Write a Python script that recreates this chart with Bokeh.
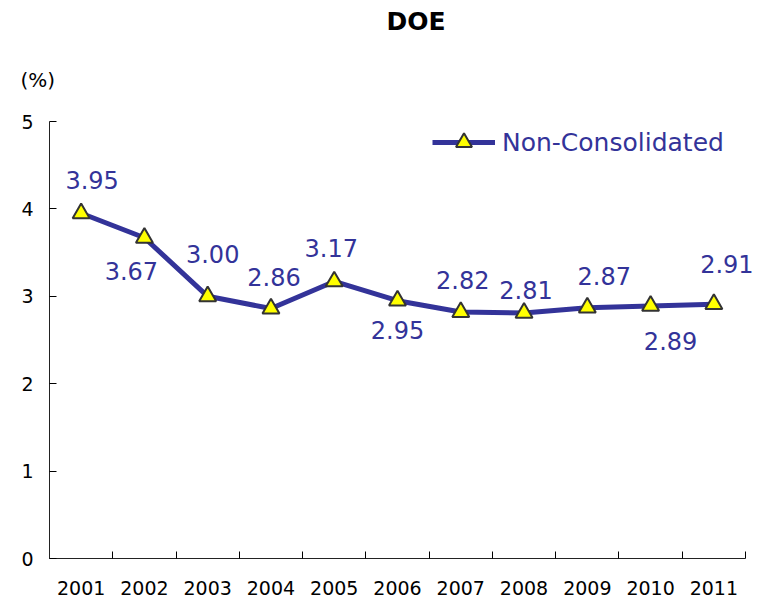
from bokeh.plotting import figure
from bokeh.models import (ColumnDataSource, Range1d, FixedTicker, Legend, LegendItem, Title)
from bokeh.core.properties import value
from bokeh.embed import file_html
from bokeh.resources import INLINE

# ---- data ----
years = ["2001", "2002", "2003", "2004", "2005", "2006", "2007", "2008", "2009", "2010", "2011"]
doe = [3.95, 3.67, 3.00, 2.86, 3.17, 2.95, 2.82, 2.81, 2.87, 2.89, 2.91]
y_ticks = [0, 1, 2, 3, 4, 5]
series_name = "Non-Consolidated"
chart_title = "DOE"
unit_label = "(%)"

# label placement (screen px, +down)
label_dx = [11, -13, 5, 3, -3, 0, 2, 2, 17, 20, 13]
label_dy = [-33, 33, -42, -32, -33, 29, -32, -23, -32, 35, -40]

FONT = "DejaVu Sans"
BLUE = "#333399"

n = len(years)
xs = [i + 1 for i in range(n)]
src = ColumnDataSource(dict(x=xs, y=doe, txt=["%.2f" % v for v in doe],
                            dx=label_dx, dy=label_dy))

# frame spans 49..765 px; categories occupy 49..745 px
FRAME_W = 716
CAT_W = 696
x_end = 0.5 + n * FRAME_W / CAT_W

p = figure(width=765, height=602, output_backend="svg", toolbar_location=None,
           x_range=Range1d(0.5, x_end), y_range=Range1d(0, 5),
           min_border_left=49, min_border_right=0, min_border_top=121, min_border_bottom=44)
p.outline_line_color = None
p.xgrid.visible = False
p.ygrid.visible = False
p.background_fill_color = "white"
p.border_fill_color = "white"

# x axis
p.xaxis.bounds = (0.5, n + 0.5)
p.xaxis.ticker = FixedTicker(ticks=xs, minor_ticks=[i + 0.5 for i in range(n + 1)])
p.xaxis.major_label_overrides = {x: y for x, y in zip(xs, years)}
p.xaxis.major_tick_in = 0
p.xaxis.major_tick_out = 0
p.xaxis.minor_tick_in = 7
p.xaxis.minor_tick_out = 0
p.xaxis.major_label_standoff = 22
p.xaxis.major_label_text_font = FONT
p.xaxis.major_label_text_font_size = "19px"
p.xaxis.major_label_text_color = "black"
p.xaxis.axis_line_color = "#222222"

# y axis
p.yaxis.ticker = FixedTicker(ticks=y_ticks)
p.yaxis.major_tick_in = 7
p.yaxis.major_tick_out = 0
p.yaxis.minor_tick_line_color = None
p.yaxis.major_label_standoff = 16
p.yaxis.major_label_text_font = FONT
p.yaxis.major_label_text_font_size = "19px"
p.yaxis.major_label_text_color = "black"
p.yaxis.axis_line_color = "#222222"

# series
ln = p.line("x", "y", source=src, line_color=BLUE, line_width=5)
mk = p.scatter("x", "y", source=src, marker="triangle", size=17,
               fill_color="#FFFF00", line_color="#333333", line_width=2)
p.text("x", "y", text="txt", source=src, x_offset="dx", y_offset="dy",
       text_align="center", text_baseline="middle",
       text_font=value(FONT), text_font_size="24px", text_color=BLUE)

legend = Legend(items=[LegendItem(label=series_name, renderers=[ln, mk])],
                location=(383, 396), padding=0, margin=0, glyph_width=63,
                glyph_height=40, label_height=40,
                label_standoff=7, label_text_font=FONT, label_text_font_size="25px",
                label_text_color=BLUE, border_line_color=None,
                background_fill_alpha=0)
p.add_layout(legend)

# unit (nearest to frame) and title
has_standoff = "standoff" in Title.properties()
unit_kw = dict(standoff=60) if has_standoff else {}
title_kw = dict(standoff=0) if has_standoff else {}
p.add_layout(Title(text=unit_label, align="left", offset=-29, text_font=FONT,
                   text_font_size="20px", text_font_style="normal", text_color="black",
                   **unit_kw), "above")
p.add_layout(Title(text=chart_title, align="left", offset=337, text_font=FONT,
                   text_font_size="25px", text_font_style="bold", text_color="black",
                   **title_kw), "above")

open("out.html", "w").write(file_html(p, INLINE))
